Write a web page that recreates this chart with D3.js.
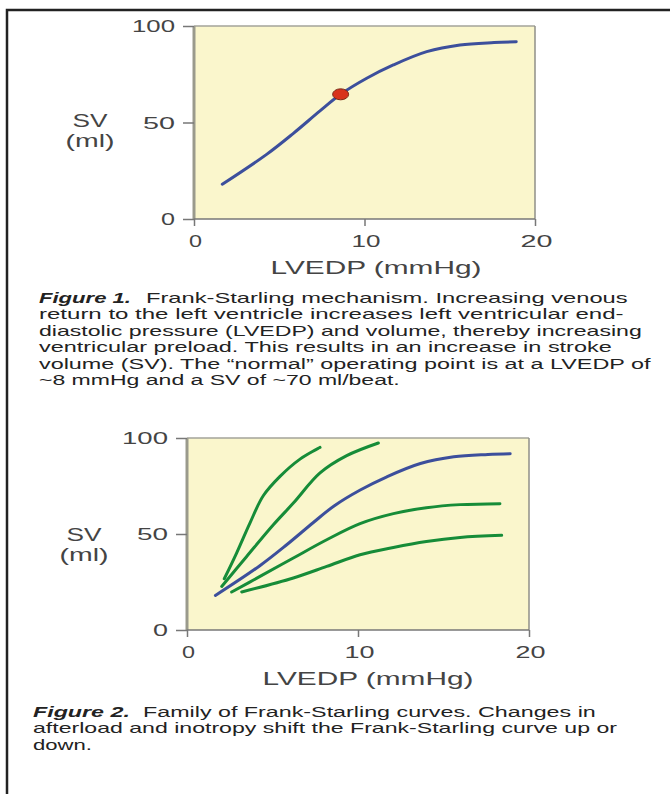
<!DOCTYPE html>
<html>
<head>
<meta charset="utf-8">
<script src="https://cdn.jsdelivr.net/npm/d3@7"></script>
<style>
  body { margin: 0; background: #fff; }
  svg { display: block; }
  .tick-label, .axis-title { font-family: "Liberation Sans", Arial, sans-serif; fill: #444; }
  .caption { font-family: "Liberation Sans", Arial, sans-serif; font-size: 15px; fill: #222; }
</style>
</head>
<body>
<svg id="page" width="670" height="794"></svg>
<script>
// ---- data ----
var xTicks = [0, 10, 20];
var yTicks = [0, 50, 100];

// baseline Frank-Starling curve (blue) - same curve in both figures
var normalLVEDP = [1.66, 4.26, 5.83, 7.39, 8.6, 10.13, 11.69, 13.65, 15.6, 17.6, 18.9];
var normalSV    = [18.0, 33.5, 44.4, 56.0, 64.6, 72.9, 79.8, 86.7, 90.2, 91.4, 91.8];

// "normal" operating point
var opLVEDP = [8.6];
var opSV = [64.6];

// family of curves (green), figure 2
var highest_LVEDP = [2.18, 2.90, 3.68, 4.46, 5.44, 6.61, 7.78];
var highest_SV    = [26.7, 40.1, 55.7, 69.9, 80.0, 89.0, 95.1];
var high_LVEDP = [2.03, 3.49, 5.05, 6.22, 7.78, 9.34, 11.19];
var high_SV    = [22.7, 38.3, 54.8, 66.1, 81.8, 90.8, 97.4];
var low_LVEDP = [2.61, 4.27, 6.22, 8.17, 10.12, 12.07, 14.0, 15.97, 18.3];
var low_SV    = [19.8, 27.9, 37.5, 47.0, 55.4, 60.6, 63.7, 65.3, 65.8];
var lowest_LVEDP = [3.20, 6.22, 8.17, 10.12, 12.07, 14.0, 15.97, 18.4];
var lowest_SV    = [19.8, 27.1, 33.1, 39.2, 43.0, 46.1, 48.2, 49.3];

var caption1 = [
    ["Figure 1.", "Frank-Starling mechanism.  Increasing venous"],
    ["", "return to the left ventricle increases left ventricular end-"],
    ["", "diastolic pressure (LVEDP) and volume, thereby increasing"],
    ["", "ventricular preload.  This results in an increase in stroke"],
    ["", "volume (SV).  The \u201cnormal\u201d operating point is at a LVEDP of"],
    ["", "~8 mmHg and a SV of ~70 ml/beat."]
];
var caption2 = [
    ["Figure 2.", "Family of Frank-Starling curves.  Changes in"],
    ["", "afterload and inotropy shift the Frank-Starling curve up or"],
    ["", "down."]
];

var svg = d3.select("#page");

// outer frame (top and left edges only)
svg.append("path")
    .attr("d", "M7,794V10H670")
    .attr("fill", "none")
    .attr("stroke", "#222")
    .attr("stroke-width", 2.5);

// stretch a text horizontally to a given width (the source text is wide)
function stretch(t, w) {
    var bw = t.node().getBBox().width;
    var s = w / bw;
    var x = +t.attr("x");
    t.attr("transform", "translate(" + x + ",0) scale(" + s + ",1) translate(" + (-x) + ",0)");
}

function zip(xs, ys) {
    return xs.map(function (d, i) { return [d, ys[i]]; });
}

function drawChart(box, yLabW, xLabW, curves, dots) {
    var x = d3.scaleLinear().domain([0, 20]).range([box.left, box.right]);
    var y = d3.scaleLinear().domain([0, 100]).range([box.bottom, box.top]);
    var g = svg.append("g");

    g.append("rect")
        .attr("x", x(0)).attr("y", y(100))
        .attr("width", x(20) - x(0)).attr("height", y(0) - y(100))
        .attr("fill", "#faf6cc");

    // frame lines of the plot area
    g.append("line").attr("x1", x(0)).attr("x2", x(20)).attr("y1", y(100)).attr("y2", y(100))
        .attr("stroke", "#a3a39a").attr("stroke-width", 1.5);
    g.append("line").attr("x1", x(20)).attr("x2", x(20)).attr("y1", y(100)).attr("y2", y(0))
        .attr("stroke", "#8f8f88").attr("stroke-width", 1.5);

    // axes with outside ticks
    var yAxis = g.append("g")
        .attr("transform", "translate(" + x(0) + ",0)")
        .call(d3.axisLeft(y).tickValues(yTicks).tickSize(11).tickFormat(""));
    var xAxis = g.append("g")
        .attr("transform", "translate(0," + y(0) + ")")
        .call(d3.axisBottom(x).tickValues(xTicks).tickSize(7).tickFormat(""));
    yAxis.select(".domain").attr("stroke", "#9a9a8c").attr("stroke-width", 3).attr("d", "M0," + y(0) + "V" + y(100));
    xAxis.select(".domain").attr("stroke", "#777").attr("stroke-width", 1.5).attr("d", "M" + x(0) + ",0H" + x(20));
    g.selectAll(".tick line").attr("stroke", "#777").attr("stroke-width", 1.5);

    yTicks.forEach(function (v, i) {
        var t = g.append("text").attr("class", "tick-label")
            .attr("x", box.left - 19).attr("y", y(v) + 6.5)
            .attr("text-anchor", "end").attr("font-size", 17)
            .text(v);
        stretch(t, yLabW[i]);
    });
    xTicks.forEach(function (v, i) {
        var t = g.append("text").attr("class", "tick-label")
            .attr("x", x(v) + 1.5).attr("y", y(0) + 28)
            .attr("text-anchor", "middle").attr("font-size", 17)
            .text(v);
        stretch(t, xLabW[i]);
    });

    var t1 = g.append("text").attr("class", "axis-title")
        .attr("x", box.titleX).attr("y", y(0) + 55)
        .attr("text-anchor", "middle").attr("font-size", 18)
        .text("LVEDP (mmHg)");
    stretch(t1, 211);
    var t2 = g.append("text").attr("class", "axis-title")
        .attr("x", box.svX).attr("y", y(50) + box.svDy)
        .attr("text-anchor", "middle").attr("font-size", 18)
        .text("SV");
    stretch(t2, 35);
    var t3 = g.append("text").attr("class", "axis-title")
        .attr("x", box.svX).attr("y", y(50) + box.svDy + 20)
        .attr("text-anchor", "middle").attr("font-size", 18)
        .text("(ml)");
    stretch(t3, 49);

    var line = d3.line()
        .x(function (d) { return x(d[0]); })
        .y(function (d) { return y(d[1]); })
        .curve(d3.curveCatmullRom.alpha(0.5));

    curves.forEach(function (c) {
        g.append("path")
            .attr("d", line(c.pts))
            .attr("fill", "none")
            .attr("stroke", c.color)
            .attr("stroke-width", 3)
            .attr("stroke-linecap", "round");
    });

    dots.forEach(function (d) {
        g.append("ellipse")
            .attr("cx", x(d[0])).attr("cy", y(d[1]))
            .attr("rx", 8).attr("ry", 5.5)
            .attr("fill", "#d8321c")
            .attr("stroke", "#7a2a18").attr("stroke-width", 1);
    });
}

var blue = "#3c4f9c", green = "#168c38";

drawChart({left: 194, right: 535, top: 26, bottom: 219, titleX: 376, svX: 90, svDy: 5},
    [14, 32, 43], [13, 29, 32],
    [{pts: zip(normalLVEDP, normalSV), color: blue}],
    zip(opLVEDP, opSV));

drawChart({left: 187, right: 529, top: 438, bottom: 630, titleX: 368, svX: 84, svDy: 7},
    [15, 31, 46], [13, 30, 30],
    [{pts: zip(highest_LVEDP, highest_SV), color: green},
     {pts: zip(high_LVEDP, high_SV), color: green},
     {pts: zip(low_LVEDP, low_SV), color: green},
     {pts: zip(lowest_LVEDP, lowest_SV), color: green},
     {pts: zip(normalLVEDP, normalSV), color: blue}],
    []);

// captions
function drawCaption(lines, left, restX, top, widths) {
    lines.forEach(function (l, i) {
        var yy = top + i * 16.5;
        if (l[0]) {
            var f = svg.append("text").attr("class", "caption")
                .attr("x", left).attr("y", yy)
                .style("font-weight", "bold").style("font-style", "italic")
                .text(l[0]);
            stretch(f, widths.fig);
        }
        var t = svg.append("text").attr("class", "caption")
            .attr("x", l[0] ? restX : left).attr("y", yy)
            .text(l[1]);
        stretch(t, widths.lines[i]);
    });
}

drawCaption(caption1, 39, 146, 303, {fig: 92, lines: [482, 585, 603, 573, 613, 361]});
drawCaption(caption2, 33, 143, 717, {fig: 97, lines: [453, 584, 59]});
</script>
</body>
</html>
